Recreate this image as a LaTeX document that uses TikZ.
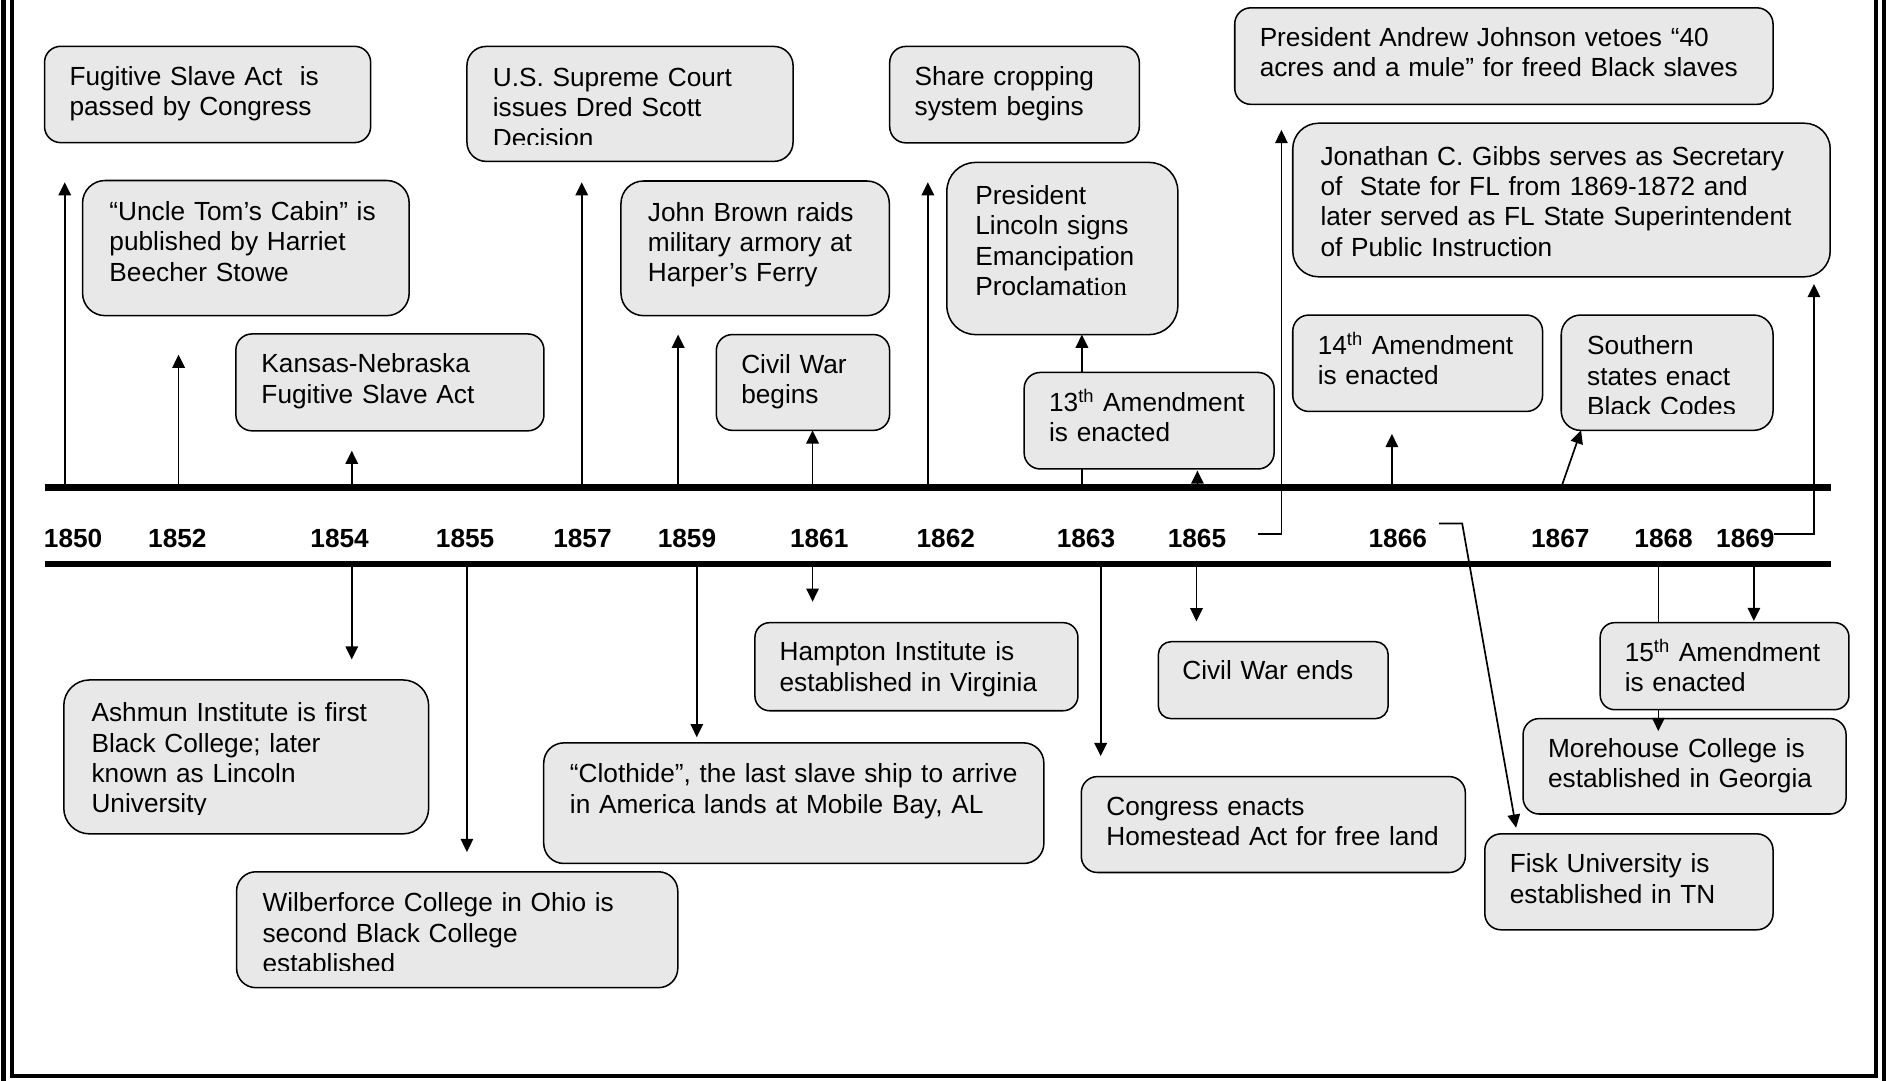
\documentclass[tikz,border=0pt]{standalone}
\usepackage{fontspec}
\setmainfont{Liberation Sans}
\newfontfamily\romanpart{Liberation Serif}
\usepackage{tikz}
\usetikzlibrary{calc,positioning,arrows.meta,fit}
\definecolor{boxgray}{RGB}{232,232,232}

\begin{document}
\begin{tikzpicture}[x=0.025cm, y=-0.025cm,
  evbox/.style={draw, line width=0.9pt, fill=boxgray, rounded corners=9.5pt, inner sep=0pt, outer sep=0pt},
  evtext/.style={anchor=base west, inner sep=0pt, yshift=1.2pt, text width=12cm, align=left, font=\fontsize{15.5}{17.94}\selectfont},
  yr/.style={anchor=base, inner sep=0pt, font=\fontsize{15.5}{17.94}\selectfont\bfseries},
  conn/.style={line width=1pt, -{Triangle[length=7.8pt, width=7.4pt]}},
  tl/.style={line width=3.8pt},
  frame/.style={line width=2.5pt}]
  \useasboundingbox (0,0) rectangle (1568,898);
  \clip (0,0) rectangle (1568,898);

  % Frame
  \draw[frame] (2.9,-10) -- (2.9,910) -- (1565.7,910) -- (1565.7,-10);
  \draw[frame] (10,-10) -- (10,894.1) -- (1559,894.1) -- (1559,-10);

  % Events above the line
  \node[evbox, fit={(37,38.5) (308,118.5)}] (fugitive) {};
  \node[evtext] (fugitive-t) at ($(fugitive.north west)+(20.5,34.1)$) {Fugitive Slave Act\ \ is\\passed by Congress};
  \node[evbox, rounded corners=13.3pt, fit={(68.6,150) (340,262.3)}] (uncletom) {};
  \node[evtext] (uncletom-t) at ($(uncletom.north west)+(22.1,34.8)$) {“Uncle Tom’s Cabin” is\\published by Harriet\\Beecher Stowe};
  \node[evbox, fit={(196,277.5) (452,358)}] (kansas) {};
  \node[evtext] (kansas-t) at ($(kansas.north west)+(21,34.1)$) {Kansas-Nebraska\\Fugitive Slave Act};
  \node[evbox, rounded corners=11.3pt, fit={(388,38.6) (659,134.1)}] (dredscott) {};
  \begin{scope}
    \clip ($(dredscott.south west)+(0,-14.2)$) rectangle (dredscott.north east);
    \node[evtext] (dredscott-t) at ($(dredscott.north west)+(21.3,34.9)$) {U.S. Supreme Court\\issues Dred Scott\\Decision};
  \end{scope}
  \node[evbox, rounded corners=13.3pt, fit={(516,150.4) (739,262.3)}] (johnbrown) {};
  \node[evtext] (johnbrown-t) at ($(johnbrown.north west)+(22.1,35)$) {John Brown raids\\military armory at\\Harper’s Ferry};
  \node[evbox, fit={(595.2,278) (739.2,357.6)}] (warbegins) {};
  \node[evtext] (warbegins-t) at ($(warbegins.north west)+(20.5,34.1)$) {Civil War\\begins};
  \node[evbox, fit={(739.3,38.6) (946.7,118.7)}] (sharecrop) {};
  \node[evtext] (sharecrop-t) at ($(sharecrop.north west)+(20.5,34.1)$) {Share cropping\\system begins};
  \node[evbox, rounded corners=16.9pt, fit={(786.8,135) (978.7,278)}] (lincoln) {};
  \node[evtext] (lincoln-t) at ($(lincoln.north west)+(23.4,36.7)$) {President\\Lincoln signs\\Emancipation\\Proclamat{\romanpart ion}};
  \node[evbox, fit={(1026,6.5) (1473.3,86.7)}] (johnson) {};
  \node[evtext] (johnson-t) at ($(johnson.north west)+(20.5,33.7)$) {President Andrew Johnson vetoes “40\\acres and a mule” for freed Black slaves};
  \node[evbox, rounded corners=15.2pt, fit={(1074.2,102.4) (1520.8,230)}] (gibbs) {};
  \node[evtext] (gibbs-t) at ($(gibbs.north west)+(22.8,36.4)$) {Jonathan C. Gibbs serves as Secretary\\of\ \ State for FL from 1869-1872 and\\later served as FL State Superintendent\\of Public Instruction};
  \node[evbox, fit={(1074.2,261.8) (1281.8,341.9)}] (amend14) {};
  \node[evtext] (amend14-t) at ($(amend14.north west)+(20.5,34.3)$) {14\textsuperscript{th} Amendment\\is enacted};
  \node[evbox, rounded corners=11.4pt, fit={(1297.3,261.8) (1473.3,357.6)}] (blackcodes) {};
  \begin{scope}
    \clip ($(blackcodes.south west)+(0,-14.2)$) rectangle (blackcodes.north east);
    \node[evtext] (blackcodes-t) at ($(blackcodes.north west)+(21.3,34.6)$) {Southern\\states enact\\Black Codes};
  \end{scope}

  % Events below the line
  \node[evbox, rounded corners=15.2pt, fit={(53,565) (356.2,692.9)}] (ashmun) {};
  \begin{scope}
    \clip ($(ashmun.south west)+(0,-15.8)$) rectangle (ashmun.north east);
    \node[evtext] (ashmun-t) at ($(ashmun.north west)+(22.8,36.4)$) {Ashmun Institute is first\\Black College; later\\known as Lincoln\\University};
  \end{scope}
  \node[evbox, rounded corners=11.4pt, fit={(196.6,724.4) (563.2,820.7)}] (wilberforce) {};
  \begin{scope}
    \clip ($(wilberforce.south west)+(0,-14.2)$) rectangle (wilberforce.north east);
    \node[evtext] (wilberforce-t) at ($(wilberforce.north west)+(21.3,34.9)$) {Wilberforce College in Ohio is\\second Black College\\established};
  \end{scope}
  \node[evbox, rounded corners=11.9pt, fit={(451.8,617.3) (867.4,717.5)}] (clothide) {};
  \node[evtext] (clothide-t) at ($(clothide.north west)+(21.5,35)$) {“Clothide”, the last slave ship to arrive\\in America lands at Mobile Bay, AL};
  \node[evbox, rounded corners=8.7pt, fit={(627.3,517.4) (895.7,590.6)}] (hampton) {};
  \node[evtext] (hampton-t) at ($(hampton.north west)+(20.2,33.5)$) {Hampton Institute is\\established in Virginia};
  \node[evbox, fit={(898.5,645.3) (1217.6,725)}] (homestead) {};
  \node[evtext] (homestead-t) at ($(homestead.north west)+(20.5,34)$) {Congress enacts\\Homestead Act for free land};
  \node[evbox, rounded corners=7.6pt, fit={(962.5,533.2) (1153.5,597.2)}] (warends) {};
  \node[evtext] (warends-t) at ($(warends.north west)+(19.7,33)$) {Civil War ends};
  \node[evbox, fit={(1233.8,692.9) (1473.3,772.6)}] (fisk) {};
  \node[evtext] (fisk-t) at ($(fisk.north west)+(20.5,34.1)$) {Fisk University is\\established in TN};
  \node[evbox, fit={(1265.6,597.1) (1534,676.4)}] (morehouse) {};
  \node[evtext] (morehouse-t) at ($(morehouse.north west)+(20.5,34.1)$) {Morehouse College is\\established in Georgia};

  % Ticks on the two lines
  \coordinate (topL) at (37,405);  \coordinate (topR) at (1521.5,405);
  \coordinate (botL) at (37,468.8); \coordinate (botR) at (1521.5,468.8);
  \coordinate (u1850) at (53.8,405);  \coordinate (u1852) at (148.4,405);
  \coordinate (u1854) at (292.3,405); \coordinate (u1857) at (483.4,405);
  \coordinate (u1859) at (563.5,405); \coordinate (u1861) at (675.2,405);
  \coordinate (u1862) at (771,405);   \coordinate (u1863) at (899,405);
  \coordinate (u1865) at (995,405);   \coordinate (u1866) at (1156.6,405);
  \coordinate (u1867) at (1297.3,405);
  \coordinate (d1854) at (292.3,468.8); \coordinate (d1855) at (388,468.8);
  \coordinate (d1859) at (579,468.8);   \coordinate (d1861) at (675.2,468.8);
  \coordinate (d1863) at (914.6,468.8); \coordinate (d1865) at (994.2,468.8);
  \coordinate (d1868) at (1378,468.8);  \coordinate (d1869) at (1457.4,468.8);
  \coordinate (k1865) at (1045.5,443.7);
  \coordinate (k1866) at (1195.8,435);
  \coordinate (k1869) at (1474.2,443.7);

  % Arrows running behind the amendment boxes
  \draw[conn] (u1863) -- (u1863 |- lincoln.south);
  \draw[conn] (d1868) -- ($(d1868 |- morehouse.north)+(0,10.4)$);

  % Boxes lying over those arrows
  \node[evbox, fit={(851,309.5) (1058.7,389.7)}] (amend13) {};
  \node[evtext] (amend13-t) at ($(amend13.north west)+(20.5,34.1)$) {13\textsuperscript{th} Amendment\\is enacted};
  \node[evbox, rounded corners=8.5pt, fit={(1329.7,517.4) (1536.4,589.7)}] (amend15) {};
  \node[evtext] (amend15-t) at ($(amend15.north west)+(20.1,33.7)$) {15\textsuperscript{th} Amendment\\is enacted};

  % Arrows up
  \draw[conn] (u1850) -- ($(u1850 |- fugitive.south)+(0,32.9)$);
  \draw[conn] (u1852) -- ($(u1852 |- uncletom.south)+(0,32.4)$);
  \draw[conn] (u1854) -- ($(u1854 |- kansas.south)+(0,16.5)$);
  \draw[conn] (u1857) -- ($(u1857 |- dredscott.south)+(0,17.3)$);
  \draw[conn] (u1859) -- ($(u1859 |- johnbrown.south)+(0,15.7)$);
  \draw[conn] (u1861) -- (u1861 |- warbegins.south);
  \draw[conn] (u1862) -- ($(u1862 |- sharecrop.south)+(0,32.7)$);
  \draw[conn] (u1865) -- ($(u1865 |- amend13.south)+(0,1.3)$);
  \draw[conn] (k1865) -| ($(johnson.south west)+(38.8,21.3)$);
  \draw[conn] (u1866) -- ($(u1866 |- amend14.south)+(0,18.7)$);
  \draw[conn] (u1867) -- ($(blackcodes.south west)+(16.5,0)$);
  \draw[conn] (k1869) -| ($(gibbs.south west)+(433.1,6)$);

  % Arrows down
  \draw[conn] (d1854) -- ($(d1854 |- ashmun.north)+(0,-17)$);
  \draw[conn] (d1855) -- ($(d1855 |- wilberforce.north)+(0,-16.4)$);
  \draw[conn] (d1859) -- ($(d1859 |- clothide.north)+(0,-4.7)$);
  \draw[conn] (d1861) -- ($(d1861 |- hampton.north)+(0,-17.4)$);
  \draw[conn] (d1863) -- ($(d1863 |- homestead.north)+(0,-17)$);
  \draw[conn] (d1865) -- ($(d1865 |- warends.north)+(0,-16.9)$);
  \draw[conn] (k1866) -- ++(19.2,0) -- ($(fisk.north west)+(26,-5.1)$);
  \draw[conn] (d1869) -- ($(d1869 |- amend15.north)+(0,-1.4)$);

  % Time line
  \draw[tl] (topL) -- (topR);
  \draw[tl] (botL) -- (botR);

  % Years
  \node[yr] (y1850) at (60.8,455) {1850};
  \node[yr] (y1852) at (147.4,455) {1852};
  \node[yr] (y1854) at (282.2,455) {1854};
  \node[yr] (y1855) at (386.5,455) {1855};
  \node[yr] (y1857) at (484,455) {1857};
  \node[yr] (y1859) at (570.8,455) {1859};
  \node[yr] (y1861) at (680.7,455) {1861};
  \node[yr] (y1862) at (785.9,455) {1862};
  \node[yr] (y1863) at (902.4,455) {1863};
  \node[yr] (y1865) at (994.6,455) {1865};
  \node[yr] (y1866) at (1161.5,455) {1866};
  \node[yr] (y1867) at (1296.5,455) {1867};
  \node[yr] (y1868) at (1382.4,455) {1868};
  \node[yr] (y1869) at (1450.3,455) {1869};
\end{tikzpicture}
\end{document}
